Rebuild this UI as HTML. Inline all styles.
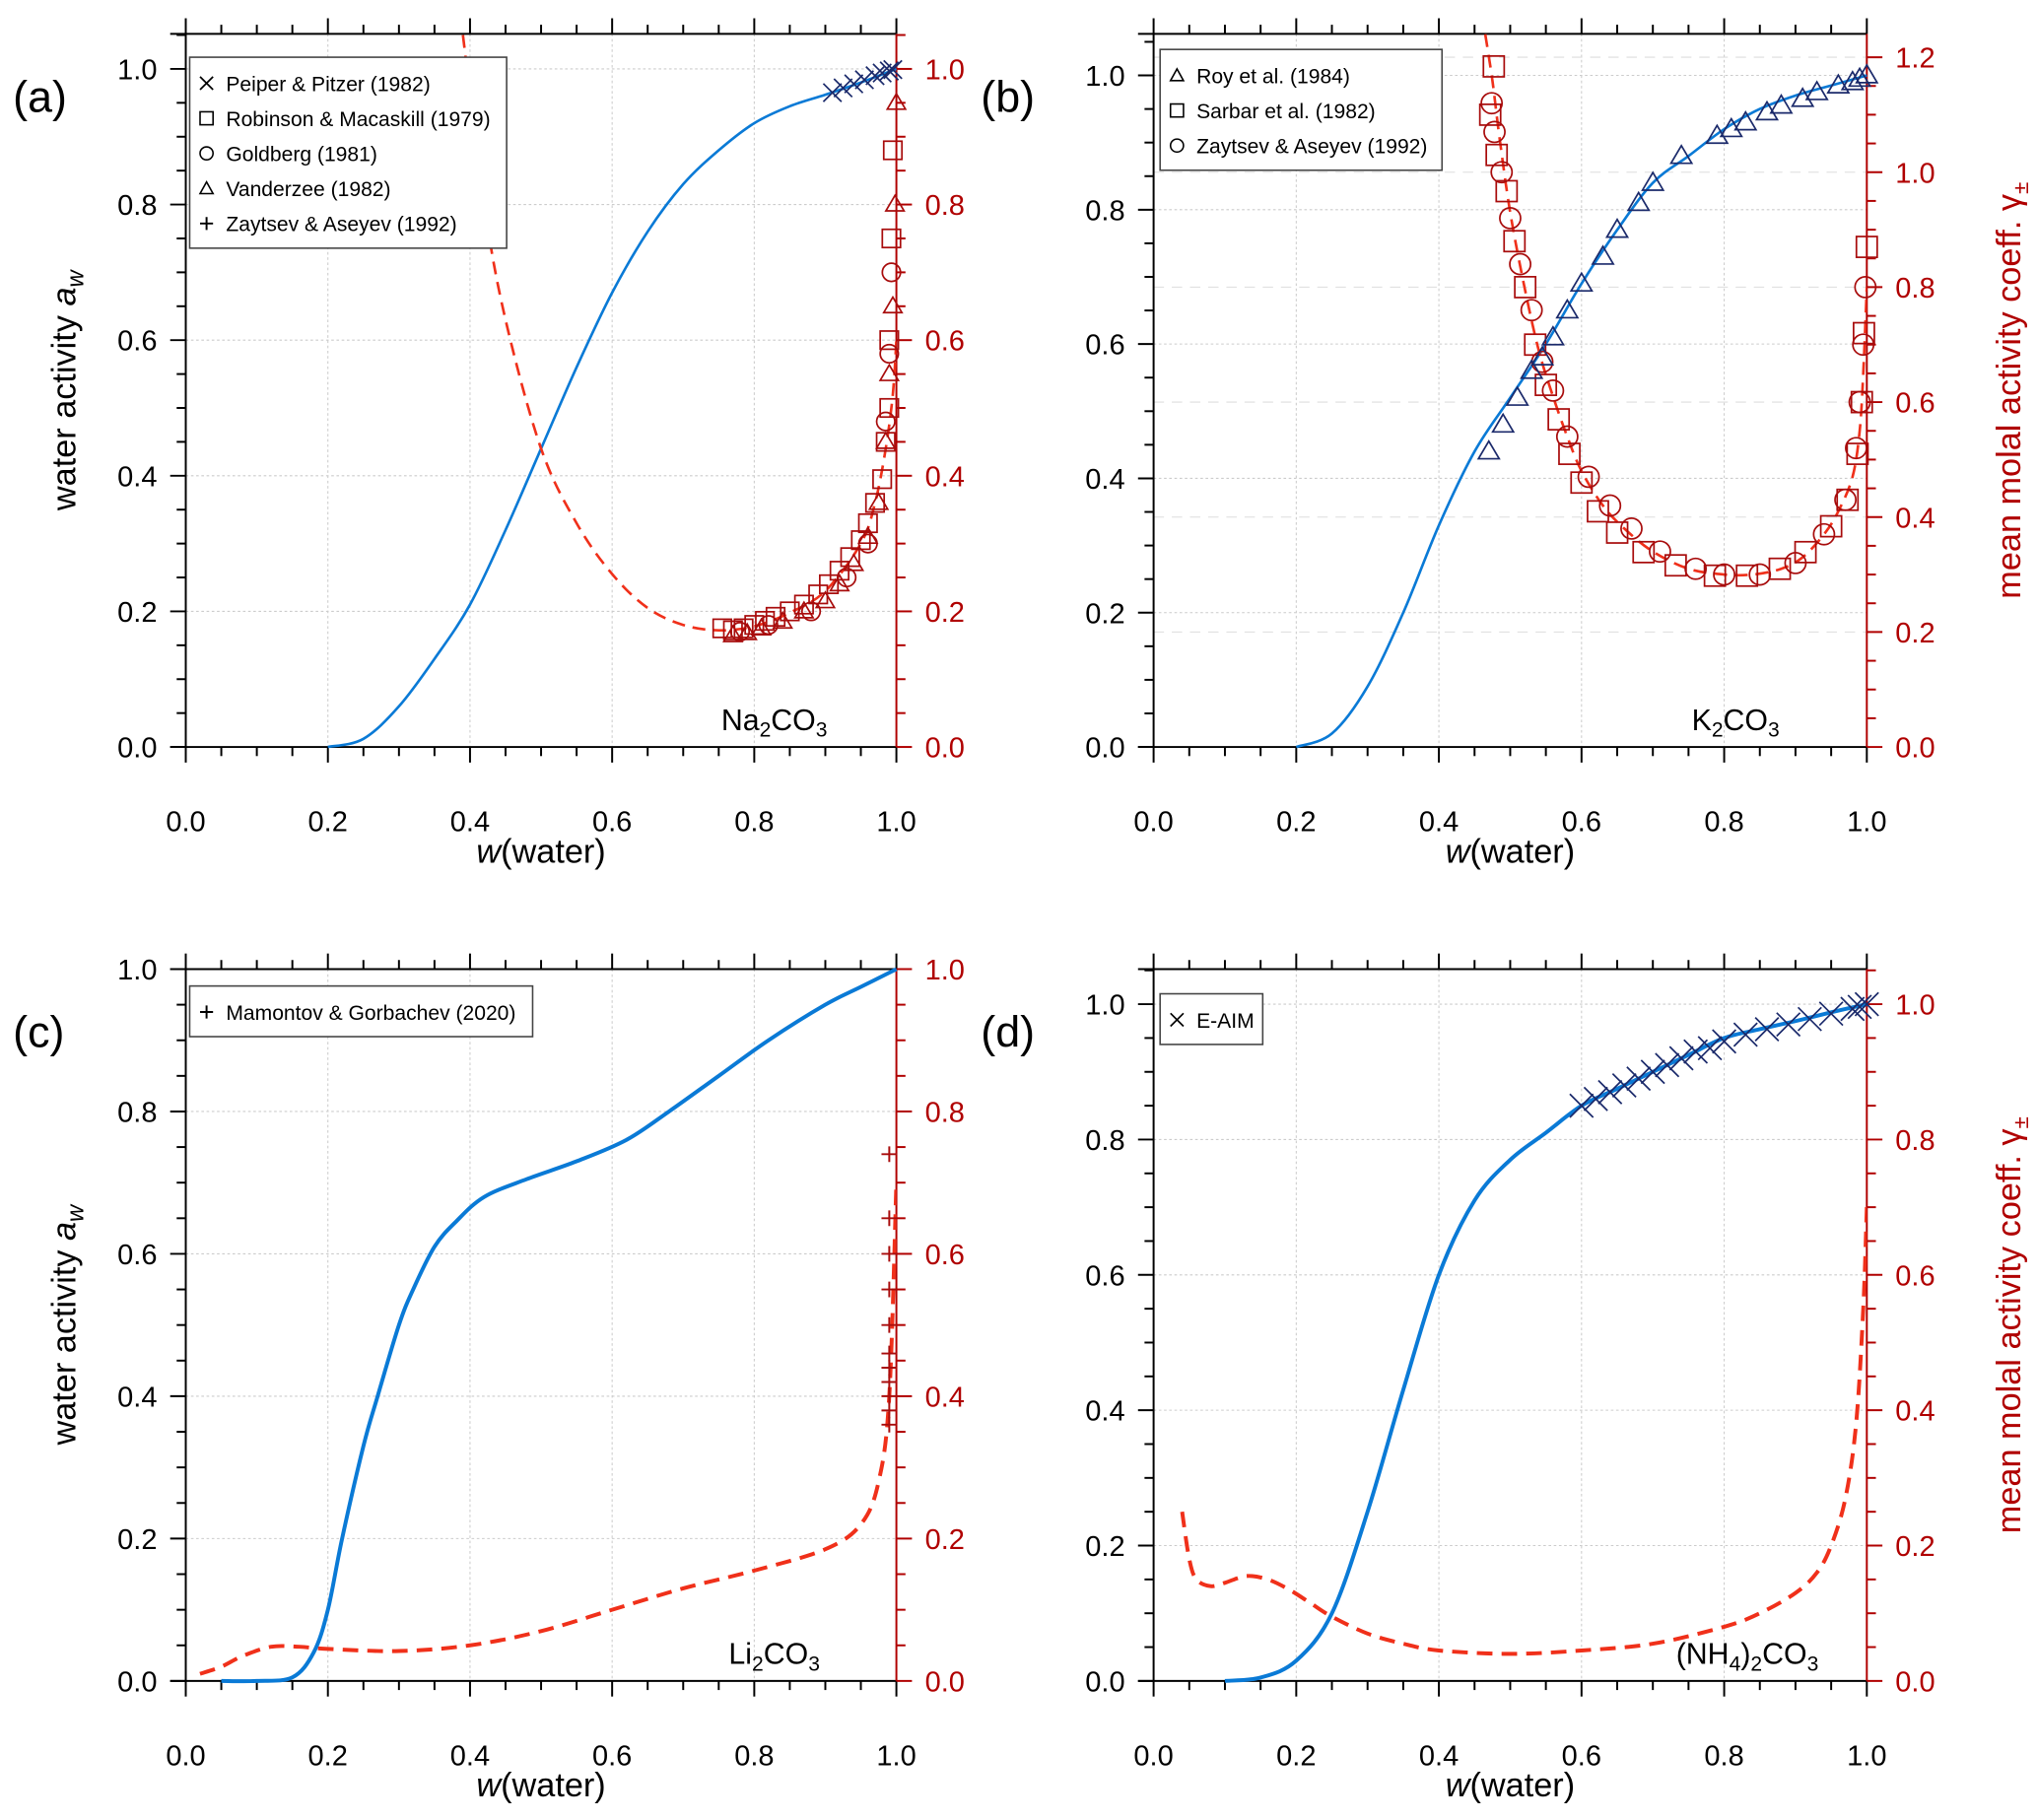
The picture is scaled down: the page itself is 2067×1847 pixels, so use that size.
<!DOCTYPE html>
<html><head><meta charset="utf-8"><style>
html,body{margin:0;padding:0;background:#fff;}
svg{display:block;font-family:"Liberation Sans",Arial,sans-serif;}
</style></head><body>
<svg id="fig" width="2067" height="1847" viewBox="0 0 1568 1401" xmlns="http://www.w3.org/2000/svg"></svg>
<script>
// ---------- DATA ----------
// Panel (a) Na2CO3
const aAwW=[0.2,0.25,0.3,0.35,0.4,0.45,0.5,0.55,0.6,0.65,0.7,0.75,0.8,0.85,0.9,0.95,1.0];
const aAw =[0,0.012,0.06,0.13,0.21,0.32,0.44,0.56,0.67,0.76,0.83,0.88,0.92,0.945,0.962,0.98,1.0];
const aGW=[0.39,0.42,0.45,0.5,0.55,0.6,0.65,0.7,0.75,0.8,0.85,0.9,0.95,0.97,0.985,0.995,1.0];
const aG =[1.05,0.8,0.63,0.44,0.33,0.255,0.205,0.18,0.172,0.178,0.198,0.23,0.3,0.36,0.44,0.52,0.6];
const aXW=[0.91,0.925,0.94,0.955,0.97,0.98,0.99,0.995];
const aXV=[0.965,0.972,0.978,0.984,0.99,0.994,0.997,0.999];
const aSqW=[0.755,0.77,0.785,0.8,0.815,0.83,0.85,0.87,0.89,0.905,0.92,0.935,0.95,0.96,0.97,0.98,0.985,0.99,0.99,0.993,0.995];
const aSqV=[0.175,0.172,0.175,0.18,0.186,0.192,0.2,0.21,0.225,0.24,0.26,0.28,0.305,0.33,0.36,0.395,0.45,0.5,0.6,0.75,0.88];
const aTrW=[0.77,0.79,0.81,0.84,0.87,0.9,0.92,0.94,0.96,0.975,0.985,0.99,0.995,0.998,1.0];
const aTrV=[0.165,0.168,0.175,0.185,0.2,0.215,0.24,0.27,0.31,0.36,0.45,0.55,0.65,0.8,0.95];
const aCiW=[0.78,0.82,0.88,0.93,0.96,0.985,0.99,0.993];
const aCiV=[0.17,0.18,0.2,0.25,0.3,0.48,0.58,0.7];
// Panel (b) K2CO3
const bAwW=[0.2,0.25,0.3,0.35,0.4,0.45,0.5,0.55,0.6,0.65,0.7,0.75,0.8,0.85,0.9,0.95,1.0];
const bAw =[0,0.02,0.09,0.2,0.33,0.44,0.52,0.6,0.69,0.77,0.84,0.88,0.92,0.95,0.97,0.985,1.0];
const bTrW=[0.47,0.49,0.51,0.53,0.545,0.56,0.58,0.6,0.63,0.65,0.68,0.7,0.74,0.79,0.81,0.83,0.86,0.88,0.91,0.93,0.96,0.98,0.99,1.0];
const bTrV=[0.44,0.48,0.52,0.56,0.58,0.61,0.65,0.69,0.73,0.77,0.81,0.84,0.88,0.91,0.92,0.93,0.945,0.955,0.965,0.975,0.985,0.99,0.995,1.0];
const bGW=[0.465,0.475,0.485,0.5,0.52,0.54,0.56,0.58,0.6,0.63,0.66,0.7,0.75,0.8,0.84,0.88,0.91,0.94,0.96,0.98,0.99,0.995,1.0];
const bG =[1.24,1.16,1.06,0.93,0.8,0.69,0.61,0.54,0.48,0.42,0.38,0.34,0.31,0.3,0.3,0.31,0.33,0.37,0.41,0.47,0.55,0.65,0.8];
const bSqW=[0.477,0.472,0.481,0.495,0.506,0.521,0.535,0.55,0.568,0.583,0.6,0.623,0.65,0.687,0.732,0.787,0.832,0.878,0.914,0.95,0.973,0.987,0.993,0.996,1.0];
const bSqV=[1.184,1.10,1.03,0.967,0.88,0.80,0.70,0.63,0.57,0.51,0.46,0.41,0.373,0.339,0.316,0.298,0.298,0.31,0.339,0.384,0.43,0.51,0.6,0.72,0.87];
const bCiW=[0.474,0.478,0.488,0.5,0.514,0.53,0.545,0.56,0.58,0.61,0.64,0.67,0.71,0.76,0.8,0.85,0.9,0.94,0.97,0.985,0.99,0.995,0.998];
const bCiV=[1.12,1.07,1.00,0.92,0.84,0.76,0.67,0.62,0.54,0.47,0.42,0.38,0.34,0.31,0.3,0.3,0.32,0.37,0.43,0.52,0.6,0.7,0.8];
// Panel (c) Li2CO3
const cAwW=[0.05,0.1,0.15,0.18,0.2,0.22,0.25,0.27,0.3,0.32,0.35,0.38,0.42,0.48,0.55,0.62,0.68,0.75,0.82,0.9,0.95,1.0];
const cAw =[0,0,0.005,0.04,0.1,0.2,0.33,0.4,0.5,0.55,0.61,0.645,0.68,0.705,0.73,0.76,0.8,0.85,0.9,0.95,0.975,1.0];
const cGW=[0.02,0.05,0.08,0.12,0.16,0.2,0.3,0.4,0.5,0.6,0.7,0.8,0.9,0.95,0.975,0.99,1.0];
const cG =[0.01,0.02,0.035,0.048,0.048,0.045,0.042,0.05,0.07,0.1,0.13,0.155,0.185,0.22,0.28,0.4,0.7];
const cPW=[0.99,0.99,0.99,0.99,0.99,0.99,0.99,0.99,0.99,0.99,0.99];
const cPV=[0.36,0.38,0.4,0.42,0.44,0.46,0.5,0.55,0.6,0.65,0.74];
// Panel (d) (NH4)2CO3
const dAwW=[0.1,0.15,0.2,0.25,0.3,0.35,0.4,0.45,0.5,0.55,0.6,0.65,0.7,0.75,0.8,0.85,0.9,0.95,1.0];
const dAw =[0,0.005,0.03,0.1,0.25,0.43,0.6,0.71,0.77,0.81,0.85,0.875,0.9,0.925,0.95,0.963,0.975,0.988,1.0];
const dXW=[0.6,0.62,0.64,0.66,0.68,0.7,0.72,0.74,0.76,0.78,0.8,0.83,0.86,0.89,0.92,0.95,0.98,0.99,1.0];
const dXV=[0.85,0.86,0.87,0.88,0.89,0.9,0.91,0.92,0.93,0.935,0.945,0.955,0.963,0.97,0.978,0.986,0.993,0.996,1.0];
const dGW=[0.04,0.05,0.06,0.08,0.1,0.13,0.16,0.19,0.22,0.25,0.3,0.35,0.4,0.5,0.6,0.7,0.8,0.85,0.9,0.93,0.95,0.97,0.985,0.995,1.0];
const dG =[0.25,0.18,0.15,0.14,0.145,0.155,0.15,0.135,0.115,0.095,0.07,0.055,0.045,0.04,0.045,0.055,0.08,0.1,0.13,0.16,0.2,0.27,0.38,0.55,0.7];
const xTicks=["0.0","0.2","0.4","0.6","0.8","1.0"];
const yTicks=["0.0","0.2","0.4","0.6","0.8","1.0"];
const yTicksB=["0.0","0.2","0.4","0.6","0.8","1.0","1.2"];

// ---------- DRAW ----------
const NS="http://www.w3.org/2000/svg";
const svg=document.getElementById('fig');
function mk(tag,attrs,parent,text){const e=document.createElementNS(NS,tag);for(const k in attrs)e.setAttribute(k,attrs[k]);if(text!==undefined)e.textContent=text;(parent||svg).appendChild(e);return e;}
const BLUE="#0a7ad6",RED="#f0301a",DRED="#a80c0c",NAVY="#1b2a6b",AX="#b00000";
function smooth(pts){
  let d='M'+pts[0][0]+','+pts[0][1];
  for(let i=0;i<pts.length-1;i++){
    const p0=pts[Math.max(0,i-1)],p1=pts[i],p2=pts[i+1],p3=pts[Math.min(pts.length-1,i+2)];
    const c1x=p1[0]+(p2[0]-p0[0])/6,c1y=p1[1]+(p2[1]-p0[1])/6;
    const c2x=p2[0]-(p3[0]-p1[0])/6,c2y=p2[1]-(p3[1]-p1[1])/6;
    d+=`C${c1x},${c1y} ${c2x},${c2y} ${p2[0]},${p2[1]}`;
  }
  return d;
}

function panel(P){
  const g=mk('g',{});
  
  
  const X=w=>P.x0+(P.x1-P.x0)*w;
  const YL=v=>P.yb-(P.yb-P.y1)*v/P.lv;
  const YR=v=>P.yb-(P.yb-P.yr1)*v/P.rv;
  for(let i=0;i<=5;i++){const x=X(i*0.2);mk('line',{x1:x,y1:P.yt,x2:x,y2:P.yb,stroke:'#ccc','stroke-width':0.8,'stroke-dasharray':'2,2'},g);}
  for(let i=0;i<=5;i++){const y=YL(i*0.2);if(y<P.yt)continue;mk('line',{x1:P.x0,y1:y,x2:P.x1,y2:y,stroke:'#ccc','stroke-width':0.8,'stroke-dasharray':'2,2'},g);}
  if(P.rgrid){for(let i=1;i<=6;i++){const y=YR(i*0.2);mk('line',{x1:P.x0,y1:y,x2:P.x1,y2:y,stroke:'#ddd','stroke-width':0.8,'stroke-dasharray':'8,6'},g);}}
  mk('line',{x1:P.x0,y1:P.yt,x2:P.x1,y2:P.yt,stroke:'#000','stroke-width':1.5},g);
  mk('line',{x1:P.x0-12,y1:P.yb,x2:P.x1,y2:P.yb,stroke:'#000','stroke-width':1.5},g);
  mk('line',{x1:P.x0,y1:P.yt,x2:P.x0,y2:P.yb,stroke:'#000','stroke-width':1.5},g);
  mk('line',{x1:P.x1,y1:P.yt,x2:P.x1,y2:P.yb,stroke:AX,'stroke-width':1.5},g);
  mk('line',{x1:P.x0,y1:P.yt,x2:P.x0-12,y2:P.yt,stroke:'#000','stroke-width':1.5},g);
  for(let i=0;i<=20;i++){const x=X(i*0.05);const L=i%4==0?12:7;
    mk('line',{x1:x,y1:P.yb,x2:x,y2:P.yb+L,stroke:'#000','stroke-width':1.5},g);
    mk('line',{x1:x,y1:P.yt,x2:x,y2:P.yt-L,stroke:'#000','stroke-width':1.5},g);}
  xTicks.forEach((t,i)=>{const e=mk('text',{x:X(i*0.2),y:P.yb+65,'font-size':22,'text-anchor':'middle'},g,t);});
  for(let v=0;v<=P.lv*1.06;v+=0.05){const y=YL(v);if(y<P.yt-1)break;const major=Math.round(v*100)%20==0;
    mk('line',{x1:P.x0,y1:y,x2:P.x0-(major?12:7),y2:y,stroke:'#000','stroke-width':1.5},g);}
  yTicks.forEach((t,i)=>{const e=mk('text',{x:P.x0-22,y:YL(i*0.2)+8,'font-size':22,'text-anchor':'end'},g,t);});
  const rt=P.rv>1.1?yTicksB:yTicks;
  for(let v=0;v<=P.rv*1.05+0.001;v+=0.05){const y=YR(v);if(y<P.yt-1)break;const major=Math.round(v*100)%20==0;
    mk('line',{x1:P.x1,y1:y,x2:P.x1+(major?12:7),y2:y,stroke:AX,'stroke-width':1.5},g);}
  rt.forEach((t,i)=>{const e=mk('text',{x:P.x1+22,y:YR(i*0.2)+8,'font-size':22,fill:AX},g,t);});
  const xt=mk('text',{x:(P.x0+P.x1)/2,y:P.yb+89,'font-size':26,'text-anchor':'middle'},g);
  
  mk('tspan',{'font-style':'italic'},xt,'w');mk('tspan',{},xt,'(water)');
  const pl=mk('text',{x:P.x0-133,y:P.yt+60,'font-size':34},g,P.label);
  
  if(P.leftTitle){const t=mk('text',{transform:`translate(${P.x0-85},${(P.yt+P.yb)/2}) rotate(-90)`,'font-size':26,'text-anchor':'middle'},g);
    
    mk('tspan',{},t,'water activity ');mk('tspan',{'font-style':'italic'},t,'a');mk('tspan',{'font-style':'italic','font-size':18,dy:6},t,'w');}
  if(P.rightTitle){const t=mk('text',{transform:`translate(${P.x1+118},${(P.yt+P.yb)/2}) rotate(-90)`,'font-size':26,'text-anchor':'middle',fill:AX},g);
    
    mk('tspan',{},t,'mean molal activity coeff.  γ');mk('tspan',{'font-size':17,dy:6},t,'±');}
  const ct=mk('text',{x:P.cx,y:P.yb-13,'font-size':23,'text-anchor':'middle'},g);
  
  P.comp.forEach(p=>{mk('tspan',p[1]>0?{'font-size':16,dy:p[1]}:(p[1]<0?{'font-size':23,dy:p[1]}:{'font-size':23}),ct,p[0]);});
  const lw=P.lw;
  const pa=mk('path',{d:smooth(P.awW.map((w,i)=>[X(w),YL(P.aw[i])])),fill:'none',stroke:BLUE,'stroke-width':lw},g);
  
  const clipId='clip'+P.label.replace(/\W/g,'');
  const cp=mk('clipPath',{id:clipId},g);mk('rect',{x:P.x0,y:P.yt,width:P.x1-P.x0,height:P.yb-P.yt},cp);
  const pg=mk('path',{d:smooth(P.gW.map((w,i)=>[X(w),YR(P.g[i])])),fill:'none',stroke:RED,'stroke-width':lw,'stroke-dasharray':lw>2.5?'12,7':'10,6','clip-path':`url(#${clipId})`},g);
  
  (P.markers||[]).forEach(m=>{
    m.w.forEach((w,i)=>{const x=X(w),y=(m.axis=='L'?YL:YR)(m.v[i]);let e;const s=m.s||7;
      if(m.type=='x')e=mk('path',{d:`M${x-s},${y-s}L${x+s},${y+s}M${x-s},${y+s}L${x+s},${y-s}`,stroke:m.c,'stroke-width':1.3,fill:'none'},g);
      else if(m.type=='+')e=mk('path',{d:`M${x-s},${y}L${x+s},${y}M${x},${y-s}L${x},${y+s}`,stroke:m.c,'stroke-width':1.5,fill:'none'},g);
      else if(m.type=='sq')e=mk('rect',{x:x-s,y:y-s,width:2*s,height:2*s,stroke:m.c,'stroke-width':1.3,fill:'none'},g);
      else if(m.type=='o')e=mk('circle',{cx:x,cy:y,r:s,stroke:m.c,'stroke-width':1.3,fill:'none'},g);
      else e=mk('path',{d:`M${x},${y-s}L${x+s},${y+s*0.7}L${x-s},${y+s*0.7}Z`,stroke:m.c,'stroke-width':1.3,fill:'none'},g);
      });
  });
  if(P.legend){const L=P.legend;const lg=mk('g',{},g);
    mk('rect',{x:L.x,y:L.y,width:L.w,height:L.items.length*27+12,fill:'#fff',stroke:'#444','stroke-width':1.2},lg);
    L.items.forEach((it,i)=>{const cy=L.y+20+i*27,cx=L.x+13,s=5;
      const ent=mk('g',{},lg);
      if(it[0]=='x')mk('path',{d:`M${cx-s},${cy-s}L${cx+s},${cy+s}M${cx-s},${cy+s}L${cx+s},${cy-s}`,stroke:'#000','stroke-width':1.3},ent);
      else if(it[0]=='+')mk('path',{d:`M${cx-s},${cy}L${cx+s},${cy}M${cx},${cy-s}L${cx},${cy+s}`,stroke:'#000','stroke-width':1.5},ent);
      else if(it[0]=='sq')mk('rect',{x:cx-s,y:cy-s,width:2*s,height:2*s,stroke:'#000','stroke-width':1.2,fill:'none'},ent);
      else if(it[0]=='o')mk('circle',{cx:cx,cy:cy,r:s,stroke:'#000','stroke-width':1.2,fill:'none'},ent);
      else mk('path',{d:`M${cx},${cy-s}L${cx+s},${cy+s*0.8}L${cx-s},${cy+s*0.8}Z`,stroke:'#000','stroke-width':1.2,fill:'none'},ent);
      mk('text',{x:cx+15,y:cy+6,'font-size':16},ent,it[1]);});}
}

panel({name:'panel-a-na2co3',label:'(a)',x0:143,x1:690,yt:26,yb:575,y1:53,lv:1,yr1:53,rv:1,lw:2,leftTitle:true,cx:596,
  comp:[['Na',0],['2',5],['CO',-5],['3',5]],
  awW:aAwW,aw:aAw,gW:aGW,g:aG,
  markers:[{type:'sq',w:aSqW,v:aSqV,axis:'R',c:DRED,name:'robinson-marker'},
           {type:'tri',w:aTrW,v:aTrV,axis:'R',c:DRED,name:'vanderzee-marker'},
           {type:'o',w:aCiW,v:aCiV,axis:'R',c:DRED,name:'goldberg-marker'},
           {type:'x',w:aXW,v:aXV,axis:'L',c:NAVY,name:'peiper-pitzer-marker'}],
  legend:{x:146,y:44,w:244,items:[['x','Peiper & Pitzer (1982)'],['sq','Robinson & Macaskill (1979)'],['o','Goldberg (1981)'],['tri','Vanderzee (1982)'],['+','Zaytsev & Aseyev (1992)']]}});
panel({name:'panel-b-k2co3',label:'(b)',x0:888,x1:1437,yt:26,yb:575,y1:58,lv:1,yr1:44,rv:1.2,lw:2,rightTitle:true,rgrid:true,cx:1336,
  comp:[['K',0],['2',5],['CO',-5],['3',5]],
  awW:bAwW,aw:bAw,gW:bGW,g:bG,
  markers:[{type:'sq',w:bSqW,v:bSqV,axis:'R',c:DRED,name:'sarbar-marker',s:8},
           {type:'o',w:bCiW,v:bCiV,axis:'R',c:DRED,name:'zaytsev-marker',s:8},
           {type:'tri',w:bTrW,v:bTrV,axis:'L',c:NAVY,name:'roy-marker',s:8}],
  legend:{x:893,y:38,w:217,items:[['tri','Roy et al. (1984)'],['sq','Sarbar et al. (1982)'],['o','Zaytsev & Aseyev (1992)']]}});
panel({name:'panel-c-li2co3',label:'(c)',x0:143,x1:690,yt:746,yb:1294,y1:746,lv:1,yr1:746,rv:1,lw:3,leftTitle:true,cx:596,
  comp:[['Li',0],['2',5],['CO',-5],['3',5]],
  awW:cAwW,aw:cAw,gW:cGW,g:cG,
  markers:[{type:'+',w:cPW,v:cPV,axis:'R',c:DRED,name:'mamontov-marker',s:6}],
  legend:{x:146,y:759,w:264,items:[['+','Mamontov & Gorbachev (2020)']]}});
panel({name:'panel-d-nh4-2co3',label:'(d)',x0:888,x1:1437,yt:746,yb:1294,y1:773,lv:1,yr1:773,rv:1,lw:3,rightTitle:true,cx:1345,
  comp:[['(NH',0],['4',5],[')',-5],['2',5],['CO',-5],['3',5]],
  awW:dAwW,aw:dAw,gW:dGW,g:dG,
  markers:[{type:'x',w:dXW,v:dXV,axis:'L',c:NAVY,name:'e-aim-marker',s:9}],
  legend:{x:893,y:765,w:79,items:[['x','E-AIM']]}});
</script>
</body></html>
